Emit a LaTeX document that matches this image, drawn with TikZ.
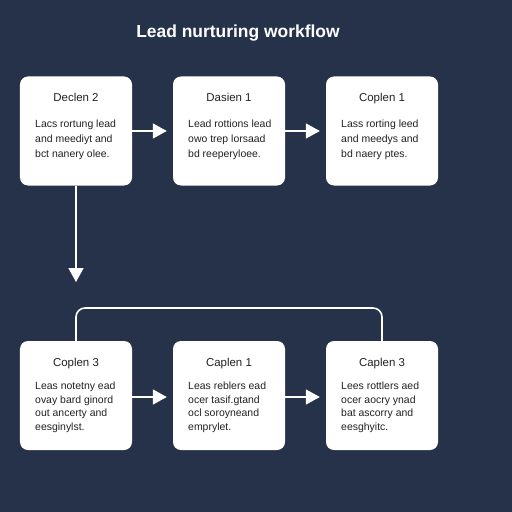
\documentclass[tikz,border=0pt]{standalone}
\usepackage{fontspec}
\setmainfont{Liberation Sans}
\usetikzlibrary{arrows.meta}
\definecolor{bg}{HTML}{25324A}
\definecolor{ink}{HTML}{222222}
\tikzset{
  card/.style={draw=none, fill=white, rounded corners=8bp, minimum width=112bp, minimum height=109bp, inner sep=0pt},
  cardtitle/.style={text=ink, font=\fontsize{11.5}{13}\selectfont, anchor=base, inner sep=0pt},
  cardbody/.style={text=ink, font=\fontsize{10.5}{15}\selectfont, align=left, anchor=north west, inner sep=0pt},
  cardbodyb/.style={text=ink, font=\fontsize{10.5}{13.5}\selectfont, align=left, anchor=north west, inner sep=0pt},
  flow/.style={draw=white, line width=1.6bp, -{Triangle[width=15bp,length=14bp]}},
  loopline/.style={draw=white, line width=1.6bp, rounded corners=9bp}
}
\begin{document}
\begin{tikzpicture}[x=1bp,y=-1bp]
\fill[bg] (0,0) rectangle (512,512);
\useasboundingbox (0,0) rectangle (512,512);
\node[text=white, font=\bfseries\fontsize{17.5}{20}\selectfont] (title) at (238,33) {Lead nurturing workflow};

% row 1
\node[card] (b1) at (76,131) {};
\node[card] (b2) at (229,131) {};
\node[card] (b3) at (382,131) {};
% row 2
\node[card] (b4) at (76,395.5) {};
\node[card] (b5) at (229,395.5) {};
\node[card] (b6) at (382,395.5) {};

\node[cardtitle] (t1) at (76,102) {Declen 2};
\node[cardbody] (d1) at (35,119.5) {Lacs rortung lead\\and meediyt and\\bct nanery olee.};
\node[cardtitle] (t2) at (229,102) {Dasien 1};
\node[cardbody] (d2) at (188,119.5) {Lead rottions lead\\owo trep lorsaad\\bd reeperyloee.};
\node[cardtitle] (t3) at (382,102) {Coplen 1};
\node[cardbody] (d3) at (341,119.5) {Lass rorting leed\\and meedys and\\bd naery ptes.};

\node[cardtitle] (t4) at (76,366) {Coplen 3};
\node[cardbodyb] (d4) at (35,382) {Leas notetny ead\\ovay bard ginord\\out ancerty and\\eesginylst.};
\node[cardtitle] (t5) at (229,366) {Caplen 1};
\node[cardbodyb] (d5) at (188,382) {Leas reblers ead\\ocer tasif.gtand\\ocl soroyneand\\emprylet.};
\node[cardtitle] (t6) at (382,366) {Caplen 3};
\node[cardbodyb] (d6) at (341,382) {Lees rottlers aed\\ocer aocry ynad\\bat ascorry and\\eesghyitc.};

% connectors
\draw[flow, shorten >=6bp] (b1.east |- 0,131) -- (b2.west |- 0,131);
\draw[flow, shorten >=6bp] (b2.east |- 0,131) -- (b3.west |- 0,131);
\draw[flow, shorten >=6bp] (b4.east |- 0,397) -- (b5.west |- 0,397);
\draw[flow, shorten >=6bp] (b5.east |- 0,397) -- (b6.west |- 0,397);
\coordinate (dn) at (76,282);
\draw[flow] (b1.south) -- (dn);
\coordinate (lp) at (229,308);
\draw[loopline] (b4.north) |- (lp) -| (b6.north);
\end{tikzpicture}
\end{document}
